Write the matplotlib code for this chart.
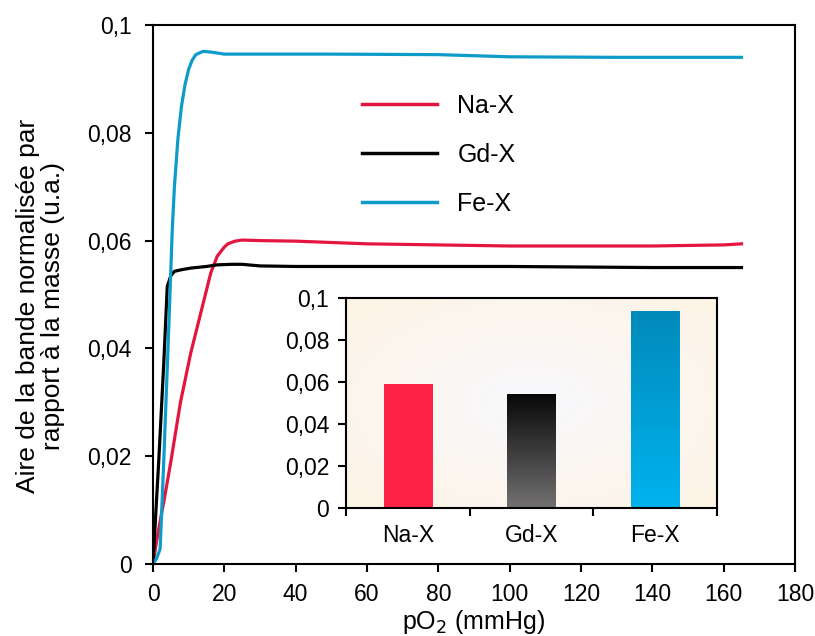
import numpy as np
import matplotlib
matplotlib.use("Agg")
import matplotlib.pyplot as plt
from matplotlib.colors import LinearSegmentedColormap
from matplotlib.ticker import FuncFormatter

plt.rcParams['font.family'] = ['Liberation Sans', 'DejaVu Sans']

# courbes principales
na_x = [0, 1, 2, 3, 5, 7.7, 10.6, 13.4, 16.2, 18, 20, 21, 23, 25, 30, 40, 60, 80, 100, 120, 140,
        160, 165]
na_y = [0, 0.0042, 0.008, 0.0114, 0.019, 0.030, 0.0392, 0.0466, 0.054, 0.0571, 0.0588, 0.0594,
        0.0599, 0.0601, 0.0600, 0.0599, 0.0594, 0.0592, 0.0590, 0.0590, 0.0590, 0.0592, 0.0594]

gd_x = [0, 1, 1.6, 3, 4, 5, 6, 8, 10.6, 15, 18, 22, 25, 30, 40, 60, 80, 100, 120, 140, 165]
gd_y = [0, 0.012, 0.019, 0.037, 0.0515, 0.0535, 0.0543, 0.0546, 0.0549, 0.0552, 0.0555, 0.0556,
        0.0556, 0.0553, 0.0552, 0.0552, 0.0552, 0.0552, 0.0551, 0.0550, 0.0550]

fe_x = [0, 1, 2, 3, 4.4, 5.4, 6, 7, 8, 9, 10, 11, 12, 14, 16, 20, 30, 50, 80, 100, 130, 165]
fe_y = [0, 0.001, 0.0028, 0.0188, 0.0435, 0.062, 0.070, 0.079, 0.085, 0.089, 0.0918, 0.0935,
        0.0945, 0.0951, 0.0950, 0.0946, 0.0946, 0.0946, 0.0945, 0.0941, 0.0940, 0.0940]

# encart
bar_labels = ['Na-X', 'Gd-X', 'Fe-X']
bar_values = [0.0592, 0.0544, 0.0941]


def virgule(v, pos):
    if abs(v) < 1e-12:
        return '0'
    return ('%g' % round(v, 4)).replace('.', ',')


fig = plt.figure(figsize=(8.15, 6.36), dpi=100)
ax = fig.add_axes([153 / 815, 1 - 564 / 636, 642 / 815, 539 / 636])

ax.plot(na_x, na_y, color='#e3163f', lw=2.3, label='Na-X')
ax.plot(gd_x, gd_y, color='black', lw=2.3, label='Gd-X')
ax.plot(fe_x, fe_y, color='#0d9bc9', lw=2.3, label='Fe-X')

ax.set_xlim(0, 180)
ax.set_ylim(0, 0.1)
ax.set_xticks(range(0, 181, 20))
ax.set_yticks([0, 0.02, 0.04, 0.06, 0.08, 0.1])
ax.yaxis.set_major_formatter(FuncFormatter(virgule))
ax.tick_params(labelsize=16.5, width=1.5, length=6, direction='out', pad=8)
ax.tick_params(axis='y', pad=9.5)
for s in ax.spines.values():
    s.set_linewidth(1.5)
ax.set_xlabel('pO$_2$ (mmHg)', fontsize=18, labelpad=1)
ax.set_ylabel('Aire de la bande normalisée par\nrapport à la masse (u.a.)', fontsize=19,
              linespacing=1.08)
ax.yaxis.set_label_coords(-0.137, 0.478)

leg = ax.legend(loc='upper left', bbox_to_anchor=(0.291, 0.914), frameon=False, fontsize=18,
                handlelength=3.0, labelspacing=1.0, handletextpad=0.8)
for h in leg.get_lines():
    h.set_linewidth(2.5)

# encart
ins = fig.add_axes([346 / 815, 1 - 508.3 / 636, 370.7 / 815, 210 / 636])

# fond avec dégradé radial
gx, gy = np.meshgrid(np.linspace(-1, 1, 200), np.linspace(-1, 1, 200))
r = np.clip(np.sqrt(gx ** 2 + gy ** 2) / 1.3, 0, 1)
bg_cmap = LinearSegmentedColormap.from_list('bg', ['#f8f8fd', '#fdf4e6'])
ins.imshow(r, cmap=bg_cmap, extent=[-0.5, 2.5, 0, 0.1], aspect='auto', zorder=0)

bar_cmaps = [
    LinearSegmentedColormap.from_list('na', ['#fe2246', '#fe2246']),
    LinearSegmentedColormap.from_list('gd', ['#727070', '#070707']),
    LinearSegmentedColormap.from_list('fe', ['#00b3ee', '#008abb']),
]
bars = ins.bar(range(3), bar_values, width=0.39, color='none', zorder=2)
grad = np.linspace(0, 1, 100).reshape(-1, 1)
for b, cm in zip(bars, bar_cmaps):
    x0, w, h = b.get_x(), b.get_width(), b.get_height()
    im = ins.imshow(grad, cmap=cm, origin='lower', extent=[x0, x0 + w, 0, h],
                    aspect='auto', zorder=2)
    im.set_clip_path(b)

ins.set_xticks([-0.5, 0.5, 1.5, 2.5])
ins.set_xticklabels([])
ins.set_xticks(range(3), minor=True)
ins.set_xticklabels(bar_labels, minor=True)
ins.tick_params(axis='x', which='minor', length=0, labelsize=16.5, pad=11)
ins.set_yticks([0, 0.02, 0.04, 0.06, 0.08, 0.1])
ins.yaxis.set_major_formatter(FuncFormatter(virgule))
ins.tick_params(axis='both', which='major', labelsize=16.5, width=1.5, length=6, pad=6)
for s in ins.spines.values():
    s.set_linewidth(1.5)
ins.set_xlim(-0.5, 2.5)
ins.set_ylim(0, 0.1)

fig.savefig('out.png', dpi=100)
